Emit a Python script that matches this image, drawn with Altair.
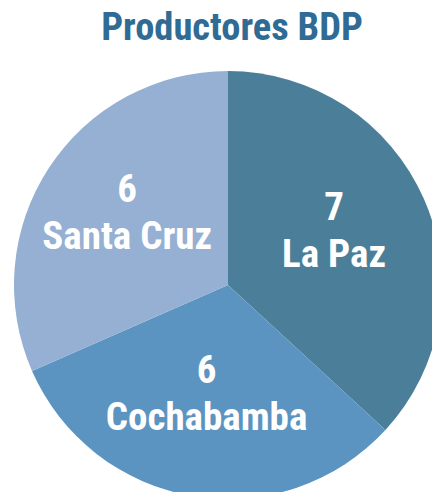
import altair as alt
import pandas as pd

regions = ["La Paz", "Cochabamba", "Santa Cruz"]
counts = [7, 6, 6]
colors = ["#4b7f99", "#5b94c1", "#95b0d2"]
title_text = "Productores BDP"

FONT = "Noto Sans Condensed, Roboto Condensed, Open Sans Condensed, Noto Sans ExtraCondensed, Lato, sans-serif"

df = pd.DataFrame({"region": regions, "count": counts, "order": list(range(len(regions)))})
df["label"] = df["count"].astype(str) + "\n" + df["region"]

base = alt.Chart(df).encode(
    theta=alt.Theta("count:Q", stack=True),
    order=alt.Order("order:Q"),
    x=alt.value(220),
    y=alt.value(217),
)

arc = base.mark_arc(outerRadius=214).encode(
    color=alt.Color("region:N", scale=alt.Scale(domain=regions, range=colors), legend=None),
)

text = base.mark_text(
    radius=118, dy=-30, dx=-2, font=FONT, fontSize=39, fontWeight="bold", color="white",
    lineBreak="\n", lineHeight=47, baseline="middle", align="center",
).encode(
    text="label:N",
)

chart = (arc + text).properties(
    width=424, height=424,
    autosize=alt.AutoSizeParams(type="none"),
    padding={"left": 0, "top": 60, "right": 0, "bottom": 0},
    title=alt.TitleParams(title_text, font=FONT, fontSize=38.5, fontWeight="bold",
                          color="#2f6b94", anchor="middle", offset=20, dx=12),
).configure_view(stroke=None)

chart.save("out.html", embed_options={"renderer": "svg", "actions": False})
